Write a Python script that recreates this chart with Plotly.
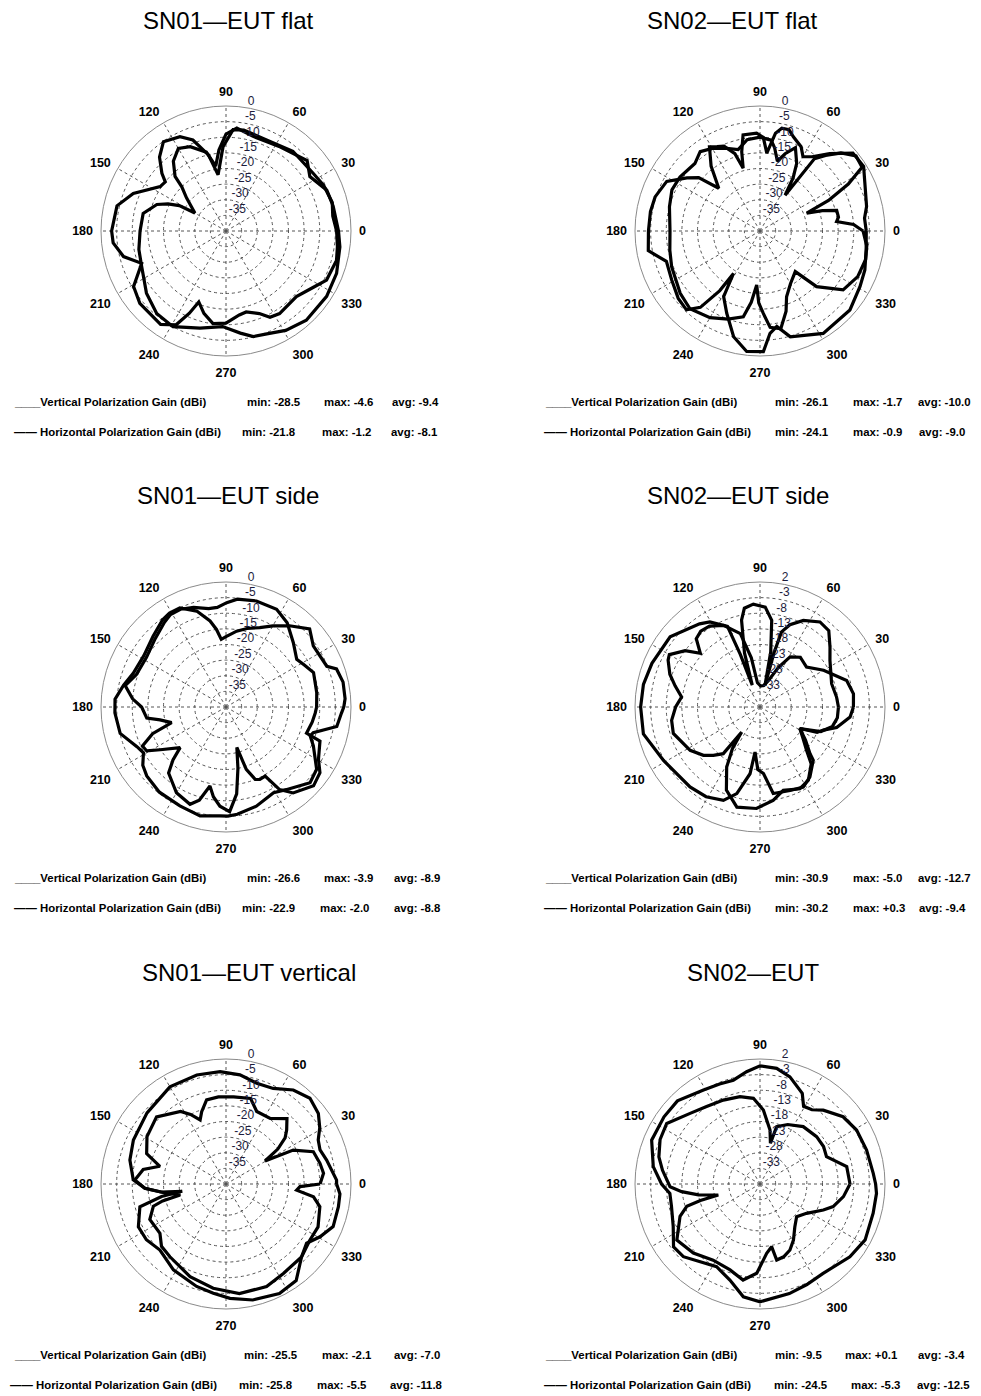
import plotly.graph_objects as go

# The page puts the figure 8 px in from the top-left corner, so the figure is
# sized to end at the window edge and all positions are page px - OFF.
OFF = 8
W, H = 981 - OFF, 1396 - OFF

# ---------------- data (angle in degrees, gain in dBi) ----------------
P1_V_THETA = [0, 13, 22, 33, 41, 57, 74, 84, 90, 95, 99, 104, 113, 120, 127, 133, 135, 140, 145, 150, 151.5, 155, 159, 168, 180, 192, 203, 218, 230, 241, 255, 268, 278, 284.5, 293, 301, 312, 327, 339, 352, 360]
P1_V_GAIN = [-4, -4.8, -5.2, -8, -5.6, -8, -8.5, -6.9, -9, -14, -19, -14, -10.7, -9.5, -12, -16.1, -20, -23.5, -26.5, -28.5, -23, -19.5, -16.3, -12.9, -12.5, -11.5, -10.7, -7.7, -5.5, -5, -7.8, -9.4, -7, -5.1, -4.4, -2.9, -1.6, -1.6, -2.1, -3.2, -4]
P1_H_THETA = [0, 8, 15, 25, 33, 50, 66, 80, 86, 92, 98, 103, 110, 116, 125, 132, 138, 141, 146, 158, 167, 180, 186, 194, 201, 211, 220, 235, 242, 246, 249, 255, 262, 270, 279, 284, 292, 297, 303, 317, 327, 334, 345, 352, 360]
P1_H_GAIN = [-4.6, -5.5, -4.8, -5.5, -6.5, -6.7, -8.1, -7.2, -7.5, -13, -21.8, -15, -9, -6.4, -5.1, -8.2, -12.4, -15, -14.6, -8, -4.2, -3.4, -3.7, -6.2, -11.1, -5.5, -4, -3.5, -6, -11.2, -15.7, -12.7, -10.1, -10.5, -12.8, -13.3, -11.5, -9, -8.5, -9.2, -6.8, -4.2, -3.4, -4, -4.6]

P2_V_THETA = [0, 4, 7, 10, 15, 18, 21, 24, 28, 32, 38, 44, 49, 53, 55, 58, 61.5, 67, 72, 76, 80, 83, 90, 98, 105, 112, 120, 127, 134, 146, 155, 165, 180, 192, 202, 218, 228, 240, 250, 259, 263, 266.5, 269, 272.3, 276, 282, 288, 292, 300, 311, 315.5, 324.7, 335, 345, 352, 360]
P2_V_GAIN = [-7, -10, -15.3, -14.5, -14.6, -19, -24, -16, -8, -1.5, -1, -4, -8, -11, -26, -20, -15.4, -11, -14, -17, -13, -10.7, -10, -10.5, -13, -11.5, -9.5, -8.2, -10, -9.1, -8.9, -10, -11.2, -10.5, -9.5, -7.6, -6.5, -8, -10, -12, -17, -22.7, -17, -13.6, -9, -8, -13, -17.3, -20.5, -22.8, -14.6, -7.4, -5.5, -5, -5.5, -7]
P2_H_THETA = [0, 7, 13, 25, 32, 40, 48, 55, 60, 64, 70.5, 74, 78, 81, 85, 88, 92, 100, 103, 105, 108, 113, 117, 121, 127, 134, 139, 144, 152, 162, 170, 180, 190, 198, 209, 219.5, 227, 232, 236, 238, 241, 248, 256, 263.7, 271.6, 275.6, 280, 286, 301.7, 318.7, 331, 339.6, 350, 360]
P2_H_GAIN = [-6, -6.3, -5, -3, -0.9, -1.2, -6.7, -11, -12.5, -10, -8, -6.3, -6.4, -8.3, -15, -10, -8.7, -8.8, -14, -19.2, -14, -10.5, -9.7, -8.6, -14, -21, -14, -11.1, -6.2, -4.7, -4.4, -4.3, -3.7, -8.5, -7.7, -6.1, -5.5, -9, -17, -24, -16, -11.6, -5.1, -1.2, -1.4, -7.1, -9, -4.8, -1.5, -1.7, -3.4, -4.2, -5.5, -6]

P3_V_THETA = [0, 9, 21.5, 28, 34, 43.7, 54, 62.6, 74, 84, 89.6, 95, 100, 108, 115, 121, 126, 136, 148, 160, 168, 175, 180, 188, 191, 196, 200, 205, 209, 213, 221.5, 225, 229, 240, 249.7, 254, 258.5, 262, 266.5, 272, 277, 281, 285, 288, 292, 295, 299.5, 303, 308, 318, 325, 330.5, 340, 342, 350, 356, 360]
P3_V_GAIN = [-11, -10.6, -9.9, -11.5, -12.7, -10.2, -6.7, -4.8, -4.7, -5.3, -6.6, -8, -8, -6.5, -5.5, -5.5, -6.5, -8.5, -10, -9.5, -7, -10, -13, -14.4, -18.5, -21.9, -15, -10.5, -11, -14.9, -20.4, -16, -12, -8.3, -6.8, -9, -14.2, -11, -8.2, -6.5, -12, -20, -26.6, -19, -15, -14.4, -14.6, -8.5, -5.1, -2.3, -3.3, -6, -8, -12.9, -12, -11.4, -11]
P3_H_THETA = [0, 4, 12, 19, 22, 35, 43, 52, 60, 67, 75, 82, 90, 94, 97, 100.5, 107, 115, 121, 126, 136, 148, 160, 168, 176, 183, 194, 204, 209, 215, 221, 232, 245, 256.6, 267, 271, 276, 287, 299, 306, 318, 325.5, 336, 341, 343.6, 350, 357, 360]
P3_H_GAIN = [-2.3, -1.8, -1.7, -2.6, -5.2, -5.9, -3.4, -7, -10, -12.4, -14, -15.5, -17.5, -18.3, -15, -12, -7.9, -5, -4.9, -5.5, -7.5, -9, -8.4, -6.5, -4.4, -4.4, -5.1, -8.8, -9.8, -7.5, -6.4, -5.4, -5.1, -4.2, -5.1, -5.1, -5.5, -6.8, -8.6, -7.3, -3.8, -4.8, -9.4, -11.5, -10.9, -4, -3, -2.3]

P4_V_THETA = [0, 7.4, 18, 33.7, 40.6, 48, 54.8, 63.4, 70, 74, 75.5, 77, 79, 82.3, 87, 93.7, 99, 102, 106, 109.5, 110.5, 112, 120.5, 126, 142, 158, 169, 180, 193, 209, 228.8, 239, 248.6, 255, 261.5, 263.7, 268, 273, 278.7, 289.8, 298.4, 305.5, 315, 317, 324, 331.6, 338, 345, 352, 360]
P4_V_GAIN = [-12.9, -13.3, -13.9, -11.1, -8.5, -5.1, -4.7, -7, -10, -13, -20, -30.9, -20, -10, -6, -5, -6, -9.6, -20, -30.6, -20, -10.2, -6.4, -5.1, -1.5, -0.7, 0, 0.2, 0.3, -2.7, -4, -4.5, -5.9, -9.3, -16.4, -23.5, -18, -16.7, -10, -9.6, -8.9, -10.5, -13.9, -16.1, -20, -23.5, -17, -14, -13, -12.9]
P4_H_THETA = [0, 8, 17, 30, 40.6, 51, 59, 65, 72, 80, 88, 96, 100, 105, 114, 122, 128, 133, 138, 143, 150, 153, 160, 166, 172.7, 180, 188.6, 197, 211.8, 220.5, 226, 231.8, 233.7, 236.5, 241, 248, 257, 268, 278, 285.6, 296, 303.4, 312, 317, 324, 331.6, 336, 340, 345, 353.7, 360]
P4_H_GAIN = [-8.1, -7.8, -9, -14.5, -18.4, -17.5, -19.3, -24, -29, -31, -31.3, -30.2, -22, -13.7, -9.4, -7.5, -7.2, -8.1, -12.3, -8, -4.5, -5, -7.3, -10, -12.7, -11, -9.4, -9, -11.7, -14.2, -16.5, -19, -28, -22, -16, -9.3, -5.1, -5.5, -7.8, -10.3, -8.9, -9.9, -13.5, -17.6, -21, -23.5, -18, -16.4, -12.6, -9, -8.1]

P5_V_THETA = [0, 6.3, 12.4, 20.3, 26.8, 30.5, 34, 38, 41.7, 47, 56, 67, 74, 85, 95, 103, 108.6, 112, 117, 122, 136, 149, 159, 165, 170, 177.5, 183, 188, 193.5, 195, 197, 205, 216.8, 224, 232.4, 248.8, 263, 277, 291.6, 302.7, 316, 326, 335, 346.4, 351.7, 355, 358, 360]
P5_V_GAIN = [-9.9, -8.6, -9.2, -10.2, -15.9, -25.5, -20, -16, -14, -11.4, -14.7, -14.8, -11.5, -12, -12, -12.4, -15.6, -17.9, -15, -12.6, -9.1, -10.5, -12.8, -18.1, -13.1, -10.8, -14, -20, -24.9, -19, -15.7, -13.1, -13.6, -11.3, -10.6, -8.2, -6.4, -4.7, -4.7, -6, -6.4, -7.7, -7.5, -9.1, -11.7, -17.3, -16.3, -9.9]
P5_H_THETA = [0, 2, 13.4, 19.9, 25.5, 31, 37.4, 45.6, 54.4, 63.7, 73, 82.7, 93, 105, 120, 138, 154.6, 166, 177.5, 183, 187, 189.5, 191, 194.8, 206, 215, 225, 238.5, 254, 263.4, 272, 283, 296, 306, 316, 323.7, 330.7, 338.3, 348.6, 355, 360]
P5_H_GAIN = [-4.6, -4.6, -6.9, -8, -7.3, -5, -2.8, -1.6, -3, -5.9, -6.3, -4.8, -4, -3.9, -4.1, -6, -7.2, -8.3, -10.3, -14, -19, -25.8, -19, -11.5, -8.8, -8.9, -10.1, -7.8, -5.9, -4.8, -3.4, -1.9, -1, -1.8, -6.4, -8, -5.5, -3.1, -3.3, -3.4, -4.6]

P6_V_THETA = [0, 5.4, 17.7, 29.2, 39, 49.4, 55, 60.7, 65, 74.4, 81.8, 90, 96.8, 104.4, 112, 121, 134.8, 145, 158, 170.8, 180, 186, 194, 206, 216, 223.5, 232, 242.3, 252.6, 261.6, 270, 285, 295, 305, 321, 332, 345.5, 355.4, 360]
P6_V_GAIN = [-1, -1.6, -2.2, -2.6, -3.8, -6.9, -9, -9.5, -6, -2.4, -0.6, -0.2, -1.8, -3.7, -3.5, -2.9, -0.5, -0.5, -0.6, -3.4, -6.5, -9, -8.8, -7.1, -3.8, -4.2, -6.5, -8.1, -5.8, -1.5, -0.3, -1.7, -2.5, -3, -1, 0.1, -0.6, -0.6, -1]
P6_H_THETA = [0, 11.3, 22.3, 30.5, 39.9, 53, 65, 73.8, 75.7, 79.5, 87.4, 94.4, 102.9, 113.6, 124.6, 134.7, 147, 156, 165, 172, 181.7, 185.6, 190, 194.8, 195.5, 197, 202, 214, 226, 238.4, 250.8, 260, 267.9, 275.5, 280.5, 282.4, 288, 294.4, 300.8, 309, 318.3, 327.8, 337.7, 342.8, 351.4, 360]
P6_H_GAIN = [-9.2, -9.7, -15, -14.4, -14.4, -15, -17, -18.9, -24.5, -20.4, -14.3, -10.5, -9.3, -8.7, -7.9, -6.2, -2.4, -3, -4.5, -6.5, -9.2, -12.8, -18, -24.2, -18.2, -13.5, -10.4, -5.9, -7.3, -9.4, -8.9, -6.8, -9.4, -15.7, -17.6, -13.1, -13.5, -14.8, -17.1, -20.3, -22.3, -20.4, -16.1, -13.5, -11, -9.2]

TITLES = ["SN01\u2014EUT flat", "SN02\u2014EUT flat", "SN01\u2014EUT side",
          "SN02\u2014EUT side", "SN01\u2014EUT vertical", "SN02\u2014EUT"]

ANGLE_TICKS = [0, 30, 60, 90, 120, 150, 180, 210, 240, 270, 300, 330]
RING_TICKS_A = [0, -5, -10, -15, -20, -25, -30, -35]
RING_TICKS_B = [2, -3, -8, -13, -18, -23, -28, -33]
RANGE_A = [-40, 0]
RANGE_B = [-38, 2]

V_LABEL = "____Vertical Polarization Gain (dBi)"
H_LABEL = "\u2014\u2014 Horizontal Polarization Gain (dBi)"
V_MIN = ["-28.5", "-26.1", "-26.6", "-30.9", "-25.5", "-9.5"]
V_MAX = ["-4.6", "-1.7", "-3.9", "-5.0", "-2.1", "+0.1"]
V_AVG = ["-9.4", "-10.0", "-8.9", "-12.7", "-7.0", "-3.4"]
H_MIN = ["-21.8", "-24.1", "-22.9", "-30.2", "-25.8", "-24.5"]
H_MAX = ["-1.2", "-0.9", "-2.0", "+0.3", "-5.5", "-5.3"]
H_AVG = ["-8.1", "-9.0", "-8.8", "-9.4", "-11.8", "-12.5"]

# ---------------- layout geometry (page pixels) ----------------
CX = [226, 760, 226, 760, 226, 760]
CY = [231, 231, 707, 707, 1184, 1184]
RPX = 125
TITLE_X = [228, 732, 228, 738, 249, 753]
TITLE_Y = [20, 20, 496, 496, 972, 972]
LEG_Y1 = [402, 402, 878, 878, 1355, 1355]
LEG_Y2 = [432, 432, 908, 908, 1385, 1385]
LEG_X = [  # vlabel, vmin, vmax, vavg, hlabel, hmin, hmax, havg
    [12, 245, 322, 390, 12, 240, 320, 389],
    [543, 773, 851, 916, 542, 773, 851, 917],
    [12, 245, 322, 392, 12, 240, 318, 392],
    [543, 773, 851, 916, 542, 773, 851, 917],
    [12, 242, 320, 392, 8, 237, 315, 388],
    [543, 773, 843, 916, 542, 772, 849, 915],
]


def fx(px):
    return (px - OFF) / W


def fy(py):
    return 1 - (py - OFF) / H


curves = [
    (P1_V_THETA, P1_V_GAIN, P1_H_THETA, P1_H_GAIN, RANGE_A, RING_TICKS_A),
    (P2_V_THETA, P2_V_GAIN, P2_H_THETA, P2_H_GAIN, RANGE_A, RING_TICKS_A),
    (P3_V_THETA, P3_V_GAIN, P3_H_THETA, P3_H_GAIN, RANGE_A, RING_TICKS_A),
    (P4_V_THETA, P4_V_GAIN, P4_H_THETA, P4_H_GAIN, RANGE_B, RING_TICKS_B),
    (P5_V_THETA, P5_V_GAIN, P5_H_THETA, P5_H_GAIN, RANGE_A, RING_TICKS_A),
    (P6_V_THETA, P6_V_GAIN, P6_H_THETA, P6_H_GAIN, RANGE_B, RING_TICKS_B),
]

FONT = "Liberation Sans, Arial, sans-serif"
fig = go.Figure()
layout = dict(width=W, height=H, margin=dict(l=0, r=0, t=0, b=0),
              paper_bgcolor="white", plot_bgcolor="white", showlegend=False,
              annotations=[])

for i, (vt, vg, ht, hg, rr, rt) in enumerate(curves):
    sub = "polar" if i == 0 else f"polar{i+1}"
    layout[sub] = dict(
        domain=dict(x=[fx(CX[i] - RPX), fx(CX[i] + RPX)],
                    y=[fy(CY[i] + RPX), fy(CY[i] - RPX)]),
        bgcolor="white",
        angularaxis=dict(rotation=0, direction="counterclockwise",
                         tickmode="array", tickvals=ANGLE_TICKS,
                         ticktext=[str(a) for a in ANGLE_TICKS],
                         ticks="outside", ticklen=5, tickcolor="rgba(0,0,0,0)",
                         showline=True, linecolor="#8a8a8a", linewidth=1,
                         gridcolor="#555555", gridwidth=0.8, griddash="dot",
                         tickfont=dict(family=FONT, size=12.5, color="black", weight="bold")),
        radialaxis=dict(range=rr, tickmode="array", tickvals=rt[1:],
                        showticklabels=False, ticks="", showline=False,
                        gridcolor="#555555", gridwidth=0.8, griddash="dot"),
    )
    for th, g in ((vt, vg), (ht, hg)):
        fig.add_trace(go.Scatterpolar(theta=th, r=g, mode="lines", subplot=sub,
                                      line=dict(color="black", width=3.2),
                                      hoverinfo="skip"))
    fig.add_trace(go.Scatterpolar(theta=[80] * len(rt), r=rt, mode="text", subplot=sub,
                                  text=[str(v) for v in rt], textposition="top right",
                                  textfont=dict(family=FONT, size=12, color="#1c1c3c"),
                                  cliponaxis=False, hoverinfo="skip"))
    layout["annotations"].append(dict(
        text=TITLES[i], x=fx(TITLE_X[i]), y=fy(TITLE_Y[i]), xref="paper", yref="paper",
        xanchor="center", yanchor="middle", showarrow=False,
        font=dict(family=FONT, size=24, color="black")))
    lx = LEG_X[i]
    items = [(V_LABEL, lx[0], LEG_Y1[i]), ("min: " + V_MIN[i], lx[1], LEG_Y1[i]),
             ("max: " + V_MAX[i], lx[2], LEG_Y1[i]), ("avg: " + V_AVG[i], lx[3], LEG_Y1[i]),
             (H_LABEL, lx[4], LEG_Y2[i]), ("min: " + H_MIN[i], lx[5], LEG_Y2[i]),
             ("max: " + H_MAX[i], lx[6], LEG_Y2[i]), ("avg: " + H_AVG[i], lx[7], LEG_Y2[i])]
    for txt, x, y in items:
        layout["annotations"].append(dict(
            text=txt, x=fx(x), y=fy(y), xref="paper", yref="paper",
            xanchor="left", yanchor="middle", showarrow=False,
            font=dict(family=FONT, size=11.4, color="black", weight="bold")))

fig.update_layout(**layout)
fig.write_html("out.html")
